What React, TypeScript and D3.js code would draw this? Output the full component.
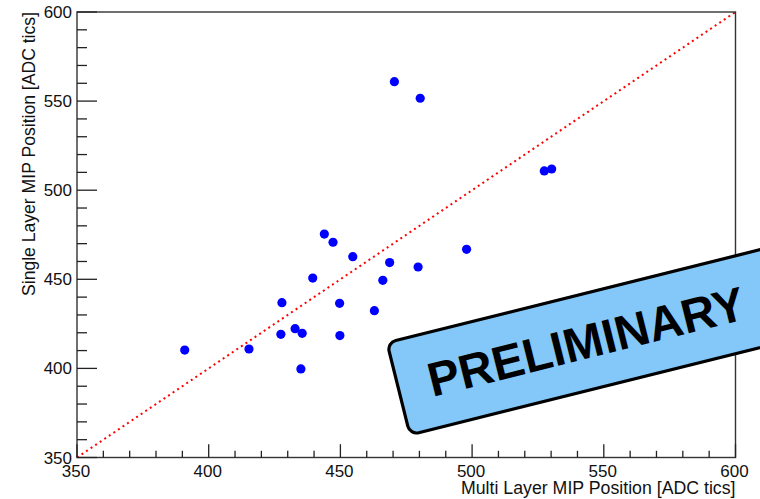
import React, { useRef, useEffect } from "react";
import * as d3 from "d3";

// multi layer vs single layer MIP position, one point per channel
const multiLayer = [390.9, 415.3, 427.4, 427.8, 432.8, 435.5, 435.0, 439.5, 443.9, 447.2, 449.7,
    449.8, 454.7, 462.9, 466.1, 468.7, 470.5, 479.5, 480.3, 497.9, 527.4, 530.2];
const singleLayer = [410.3, 410.9, 419.1, 436.9, 422.3, 419.7, 399.7, 450.7, 475.4, 470.8, 436.5,
    418.4, 462.7, 432.4, 449.4, 459.4, 560.9, 456.9, 551.6, 466.8, 510.8, 511.9];

const axisDomain = [350, 600];
const majorTicks = [350, 400, 450, 500, 550, 600];
const minorTicks = d3.range(350, 601, 10);

const xTitle = "Multi Layer MIP Position [ADC tics]";
const yTitle = "Single Layer MIP Position [ADC tics]";
const stampText = "PRELIMINARY";

const App = () => {
    const plot = useRef<SVGSVGElement>(null);

    const width = 760;
    const height = 499;
    const margin = { left: 77, right: 24.5, top: 12, bottom: 41.5 };
    const plotWidth = width - margin.left - margin.right;
    const plotHeight = height - margin.top - margin.bottom;
    const font = "'Liberation Sans', Arial, sans-serif";

    useEffect(() => {
        const svg = d3.select(plot.current);
        svg.selectAll("*").remove();

        const xScale = d3.scaleLinear().domain(axisDomain).range([0, plotWidth]);
        const yScale = d3.scaleLinear().domain(axisDomain).range([plotHeight, 0]);

        const g = svg.append("g")
            .attr("transform", `translate(${margin.left}, ${margin.top})`);

        // diagonal y = x
        g.append("path")
            .attr("d", d3.line()([
                [xScale(axisDomain[0]), yScale(axisDomain[0])],
                [xScale(axisDomain[1]), yScale(axisDomain[1])]
            ]))
            .attr("fill", "none")
            .attr("stroke", "#ff0000")
            .attr("stroke-width", 2)
            .attr("stroke-dasharray", "2 3.5");

        // points
        g.append("g")
            .selectAll("circle")
            .data(multiLayer.map((x, i) => [x, singleLayer[i]]))
            .join("circle")
            .attr("cx", d => xScale(d[0]))
            .attr("cy", d => yScale(d[1]))
            .attr("r", 4.6)
            .attr("fill", "#0000ff");

        // frame
        g.append("rect")
            .attr("width", plotWidth)
            .attr("height", plotHeight)
            .attr("fill", "none")
            .attr("stroke", "#333")
            .attr("stroke-width", 1.4);

        // x axis ticks
        g.append("g")
            .selectAll("line")
            .data(minorTicks)
            .join("line")
            .attr("x1", d => xScale(d))
            .attr("x2", d => xScale(d))
            .attr("y1", plotHeight)
            .attr("y2", d => plotHeight - (d % 50 === 0 ? 13.3 : 6.7))
            .attr("stroke", "#222")
            .attr("stroke-width", 1.3);

        g.append("g")
            .selectAll("text")
            .data(majorTicks)
            .join("text")
            .attr("x", d => xScale(d) - 1)
            .attr("y", plotHeight + 19.2)
            .attr("text-anchor", "middle")
            .attr("font-family", font)
            .attr("font-size", 17)
            .attr("fill", "#111")
            .text(d => d);

        // y axis ticks
        g.append("g")
            .selectAll("line")
            .data(minorTicks)
            .join("line")
            .attr("x1", 0)
            .attr("x2", d => (d % 50 === 0 ? 20 : 10))
            .attr("y1", d => yScale(d))
            .attr("y2", d => yScale(d))
            .attr("stroke", "#222")
            .attr("stroke-width", 1.3);

        g.append("g")
            .selectAll("text")
            .data(majorTicks)
            .join("text")
            .attr("x", -5)
            .attr("y", d => yScale(d) + 6)
            .attr("text-anchor", "end")
            .attr("font-family", font)
            .attr("font-size", 17)
            .attr("fill", "#111")
            .text(d => d);

        // axis titles
        svg.append("text")
            .attr("x", margin.left + plotWidth)
            .attr("y", 494)
            .attr("text-anchor", "end")
            .attr("font-family", font)
            .attr("font-size", 17.5)
            .attr("textLength", 274.5)
            .attr("lengthAdjust", "spacingAndGlyphs")
            .attr("fill", "#111")
            .text(xTitle);

        svg.append("text")
            .attr("transform", `translate(35, ${margin.top}) rotate(-90)`)
            .attr("text-anchor", "end")
            .attr("font-family", font)
            .attr("font-size", 17.5)
            .attr("textLength", 284)
            .attr("lengthAdjust", "spacingAndGlyphs")
            .attr("fill", "#111")
            .text(yTitle);

        // preliminary stamp
        const stamp = svg.append("g")
            .attr("transform", "translate(586, 341) rotate(-14)");
        stamp.append("rect")
            .attr("x", -193.5)
            .attr("y", -46.5)
            .attr("width", 395)
            .attr("height", 95)
            .attr("rx", 9)
            .attr("fill", "#84c8f9")
            .attr("stroke", "#000")
            .attr("stroke-width", 3.2);
        stamp.append("text")
            .attr("x", 0)
            .attr("y", 17.3)
            .attr("text-anchor", "middle")
            .attr("font-family", font)
            .attr("font-weight", "bold")
            .attr("font-size", 48)
            .attr("textLength", 325)
            .attr("lengthAdjust", "spacingAndGlyphs")
            .attr("fill", "#000")
            .text(stampText);
    });

    return (
        <svg ref={plot} width={width} height={height}
            style={{ position: "absolute", left: 0, top: 0, background: "#fff" }} />
    );
};

export default App;
